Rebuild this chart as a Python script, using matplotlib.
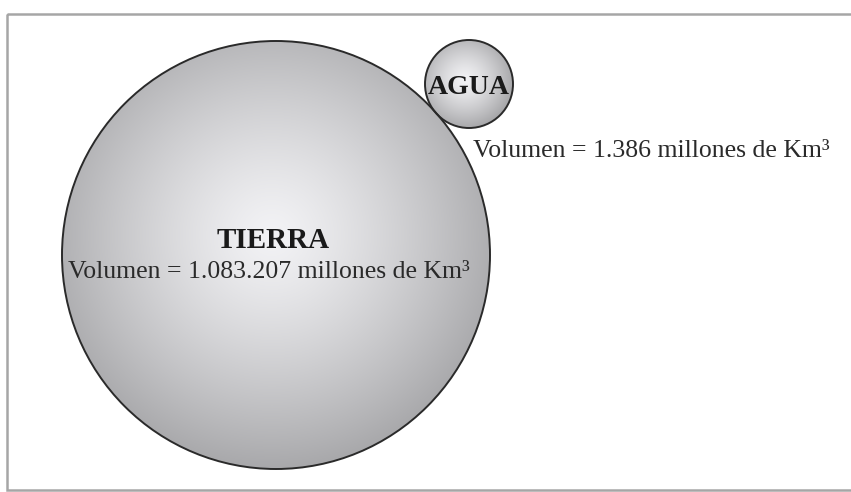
import numpy as np
import matplotlib
matplotlib.use("Agg")
import matplotlib.pyplot as plt
from matplotlib.patches import Circle, Rectangle

# data
names = ["TIERRA", "AGUA"]
volumes = ["1.083.207", "1.386"]          # millones de km3
unit = "millones de Km³"

W, H = 851, 492
fig = plt.figure(figsize=(W / 100, H / 100), dpi=100)
ax = fig.add_axes([0, 0, 1, 1])
ax.set_xlim(0, W)
ax.set_ylim(H, 0)
ax.axis("off")

plt.rcParams["font.family"] = ["Liberation Serif", "DejaVu Serif"]

# outer frame
ax.add_patch(Rectangle((7, 14), 860, 476, fill=False, ec="#a6a6a6", lw=1.8))


def shaded_circle(cx, cy, r, hx, hy):
    # radial grey gradient clipped to the circle
    xs = np.linspace(cx - r, cx + r, 300)
    ys = np.linspace(cy - r, cy + r, 300)
    X, Y = np.meshgrid(xs, ys)
    d = np.clip(np.hypot(X - hx, Y - hy) / (1.15 * r), 0, 1)
    g = 0.95 - 0.31 * d ** 1.3
    rgb = np.dstack([g, g, g + 0.01])
    im = ax.imshow(np.clip(rgb, 0, 1), extent=(cx - r, cx + r, cy + r, cy - r),
                   interpolation="bilinear", zorder=1)
    c = Circle((cx, cy), r, fill=False, ec="#2a2a2a", lw=1.4, zorder=2)
    ax.add_patch(c)
    clip = Circle((cx, cy), r, transform=ax.transData)
    im.set_clip_path(clip)


shaded_circle(276, 255, 214, 272, 235)
shaded_circle(469, 84, 44, 465, 80)

ax.text(273, 241, names[0], ha="center", va="center", fontsize=21,
        fontweight="bold", color="#1a1a1a", zorder=3)
ax.text(268.5, 272, f"Volumen = {volumes[0]} {unit}", ha="center",
        va="center", fontsize=18.5, color="#2a2a2a", zorder=3)
ax.text(469, 88, names[1], ha="center", va="center", fontsize=20,
        fontweight="bold", color="#1a1a1a", zorder=3)
ax.text(473, 151, f"Volumen = {volumes[1]} {unit}", ha="left",
        va="center", fontsize=18.5, color="#2a2a2a", zorder=3)

fig.savefig("out.png", dpi=100)
